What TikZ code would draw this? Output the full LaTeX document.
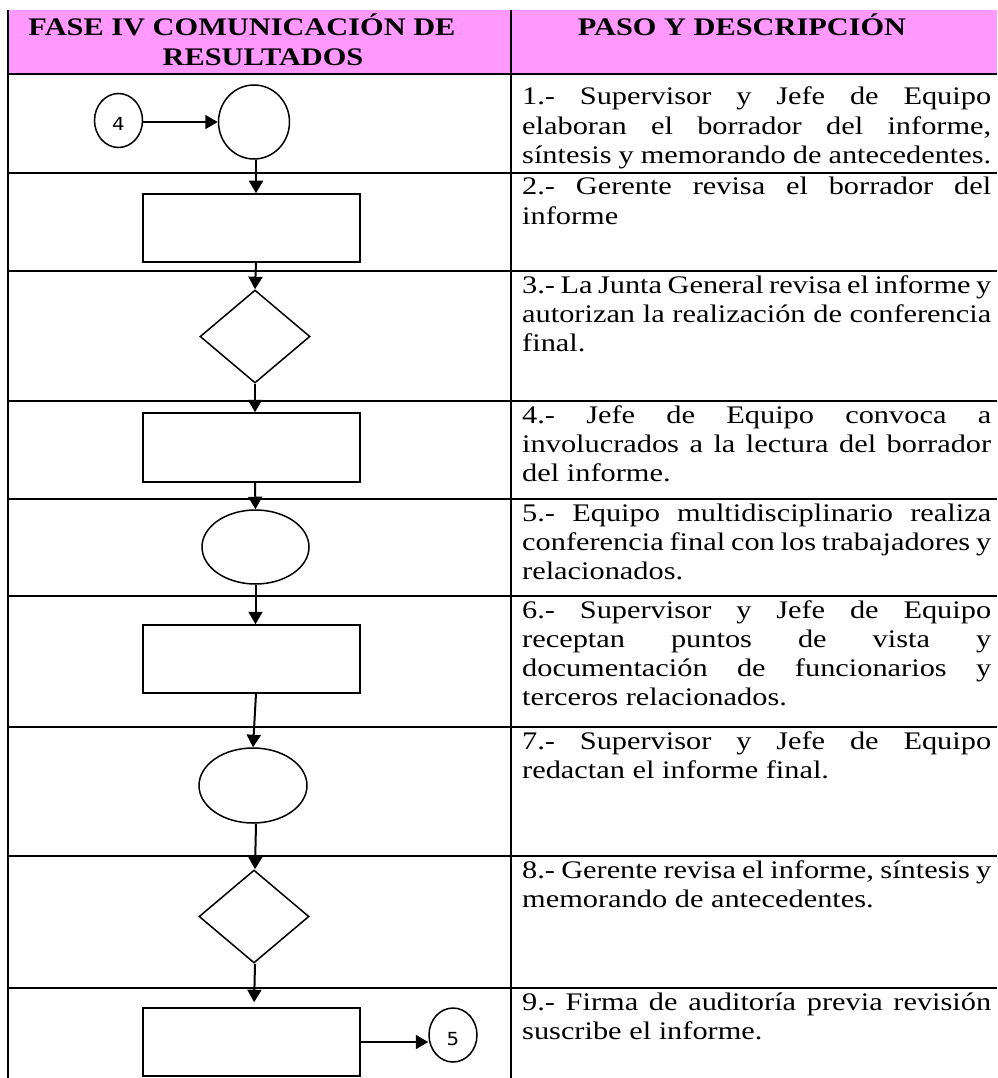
\documentclass[tikz,border=0pt]{standalone}
\usepackage{fontspec}
\setmainfont{Liberation Serif}[FakeStretch=1.2]
\newfontfamily\digitfont{DejaVu Sans}[FakeStretch=1.1]
\usetikzlibrary{shapes.geometric,arrows.meta}
\definecolor{headpink}{RGB}{255,153,255}
% a justified line of the description column
\newcommand\jl[1]{\makebox[469pt][s]{#1}}
\begin{document}
\begin{tikzpicture}[x=1pt,y=-1pt,
  grid/.style={line width=1.3pt},
  flow/.style={draw, line width=1.5pt, inner sep=0pt},
  procbox/.style={flow, rectangle, minimum width=217pt, minimum height=68pt},
  oval/.style={flow, ellipse},
  decision/.style={flow, diamond, minimum width=110pt, minimum height=93pt},
  connector/.style={flow, ellipse, minimum width=48pt, minimum height=54pt,
    font=\digitfont\fontsize{18}{18}\selectfont, text height=21pt, text depth=0pt},
  arr/.style={line width=2pt, -{Triangle[width=14pt,length=12.5pt]}},
  desc/.style={anchor=base west, inner sep=0pt, text width=469pt, align=justify,
    font=\fontsize{25.3}{29.3}\selectfont},
  headtxt/.style={anchor=base, inner sep=0pt, font=\bfseries\fontsize{25.3}{30}\selectfont}
]
\useasboundingbox (0,0) rectangle (997,1078);

% header band
\fill[headpink] (8,10) rectangle (997,74);

% table rules
\draw[grid] (8,10) -- (8,1078);
\draw[grid] (511,10) -- (511,1078);
\foreach \y in {74,173,271,401,499,596,727,856,988}
  \draw[grid] (8,\y) -- (997,\y);

% header texts
\node[headtxt] (hA1) at (242,36) {FASE IV COMUNICACIÓN DE};
\node[headtxt] (hA2) at (263,66) {RESULTADOS};
\node[headtxt] (hB)  at (742,36) {PASO Y DESCRIPCIÓN};

% flow symbols
\node[connector] (c4) at (118.5,120.5) {4};
\node[oval, minimum width=71pt, minimum height=74pt] (s1) at (254,122) {};
\node[procbox] (s2) at (251.5,228) {};
\node[decision] (s3) at (255,336.5) {};
\node[procbox, minimum height=69pt] (s4) at (251.5,447.5) {};
\node[oval, minimum width=107pt, minimum height=74pt] (s5) at (255.5,547) {};
\node[procbox] (s6) at (251.5,659) {};
\node[oval, minimum width=108pt, minimum height=75pt] (s7) at (253,785.5) {};
\node[decision] (s8) at (254,916.5) {};
\node[procbox] (s9) at (251.5,1042) {};
\node[connector] (c5) at (453,1035) {5};

% connectors
\draw[arr] ([yshift=-1.5pt]c4.east) -- (s1.west);
\draw[arr] ([xshift=2pt]s1.south) -- ([xshift=2pt]s1.south |- s2.north);
\draw[arr] ([xshift=4.5pt]s2.south) -- (s3.north);
\draw[arr] (s3.south) -- (s3.south |- s4.north);
\draw[arr] ([xshift=3.5pt]s4.south) -- (s5.north);
\draw[arr] (s5.south) -- (s5.south |- s6.north);
\draw[arr] ([xshift=4.5pt]s6.south) -- (s7.north);
\draw[arr] ([xshift=3pt]s7.south) -- ([xshift=1pt]s8.north);
\draw[arr, shorten >=5pt] ([xshift=1pt]s8.south) -- ([xshift=2.5pt]s9.north);
\draw[arr] (s9.east) -- (s9.east -| c5.west);

% step descriptions
\node[desc] (d1) at (522,105) {\jl{1.- Supervisor y Jefe de Equipo}\\
  \jl{elaboran el borrador del informe,}\\
  síntesis y memorando de antecedentes.};
\node[desc] (d2) at (522,195) {\jl{2.- Gerente revisa el borrador del}\\
  informe};
\node[desc] (d3) at (522,293) {\jl{3.- La Junta General revisa el informe y}\\
  \jl{autorizan la realización de conferencia}\\
  final.};
\node[desc] (d4) at (522,423) {\jl{4.- Jefe de Equipo convoca a}\\
  \jl{involucrados a la lectura del borrador}\\
  del informe.};
\node[desc] (d5) at (522,521) {\jl{5.- Equipo multidisciplinario realiza}\\
  \jl{conferencia final con los trabajadores y}\\
  relacionados.};
\node[desc] (d6) at (522,618) {\jl{6.- Supervisor y Jefe de Equipo}\\
  \jl{receptan puntos de vista y}\\
  \jl{documentación de funcionarios y}\\
  terceros relacionados.};
\node[desc] (d7) at (522,749) {\jl{7.- Supervisor y Jefe de Equipo}\\
  redactan el informe final.};
\node[desc] (d8) at (522,878) {\jl{8.- Gerente revisa el informe, síntesis y}\\
  memorando de antecedentes.};
\node[desc] (d9) at (522,1010) {\jl{9.- Firma de auditoría previa revisión}\\
  suscribe el informe.};
\end{tikzpicture}
\end{document}
